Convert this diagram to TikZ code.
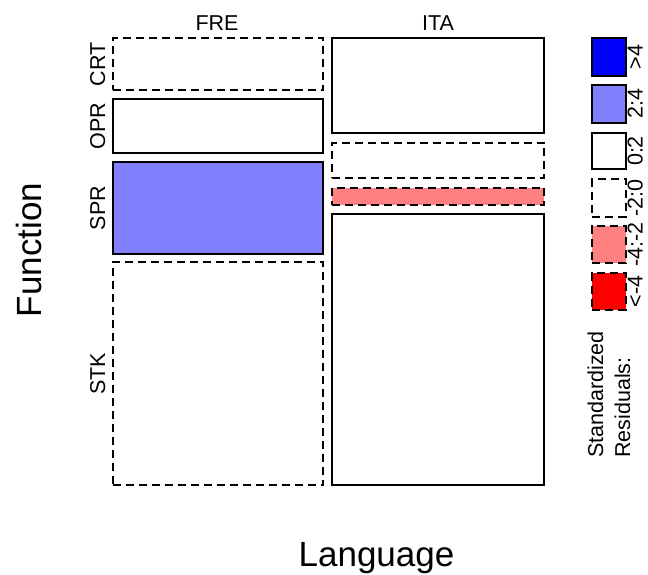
\documentclass[tikz,border=0pt]{standalone}
\usepackage{fontspec}
\setmainfont{Liberation Sans}
\usetikzlibrary{fit}
\definecolor{posbig}{HTML}{0000FF}
\definecolor{posmid}{HTML}{8080FF}
\definecolor{negmid}{HTML}{FF8080}
\definecolor{negbig}{HTML}{FF0000}
\tikzset{
  cell/.style={draw=black, line width=2.2pt, inner sep=0pt, outer sep=0pt},
  dashcell/.style={cell, dash pattern=on 8pt off 5pt},
  smalltxt/.style={font=\fontsize{21.5}{26}\selectfont, inner sep=0pt},
  bigtxt/.style={font=\fontsize{35}{42}\selectfont, inner sep=0pt},
}
\begin{document}
\begin{tikzpicture}[x=1pt,y=-1pt]
\useasboundingbox[fill=white] (0,0) rectangle (648,574);
% FRE column
\node[dashcell, fit={(112.7,38.3) (323.3,90)}] (fcrt) {};
\node[cell, fit={(112.7,99) (323.3,152.7)}] (fopr) {};
\node[cell, fill=posmid, fit={(112.7,161.7) (323.3,254)}] (fspr) {};
\node[dashcell, fit={(112.7,262.3) (323.3,485)}] (fstk) {};
% ITA column
\node[cell, fit={(332.3,38.3) (544.3,133.3)}] (icrt) {};
\node[dashcell, fit={(332.3,142.7) (544.3,178.3)}] (iopr) {};
\node[dashcell, fill=negmid, fit={(332.3,187.7) (544.3,205)}] (ispr) {};
\node[cell, fit={(332.3,214.3) (544.3,485)}] (istk) {};
% column labels
\node[smalltxt, anchor=base] (lfre) at (217,30.7) {FRE};
\node[smalltxt, anchor=base] (lita) at (438,30.7) {ITA};
% row labels
\node[smalltxt, rotate=90, anchor=base] (lcrt) at (105,64.2) {CRT};
\node[smalltxt, rotate=90, anchor=base] (lopr) at (105,125.9) {OPR};
\node[smalltxt, rotate=90, anchor=base] (lspr) at (105,207.9) {SPR};
\node[smalltxt, rotate=90, anchor=base] (lstk) at (105,373.7) {STK};
% axis titles
\node[bigtxt, rotate=90, anchor=base] (lfun) at (41.7,250) {Function};
\node[bigtxt, anchor=base] (llang) at (376.5,566) {Language};
% legend
\node[cell, fill=posbig, fit={(592.3,38.3) (625.7,75.7)}] (k1) {};
\node[cell, fill=posmid, fit={(592.3,85) (625.7,122.7)}] (k2) {};
\node[cell, fit={(592.3,132.7) (625.7,169.3)}] (k3) {};
\node[dashcell, fit={(592.3,179.3) (625.7,216.7)}] (k4) {};
\node[dashcell, fill=negmid, fit={(592.3,226) (625.7,263.3)}] (k5) {};
\node[dashcell, fill=negbig, fit={(592.3,272.7) (625.7,310)}] (k6) {};
\node[smalltxt, rotate=90, anchor=base] (t1) at (642.5,57) {>4};
\node[smalltxt, rotate=90, anchor=base] (t2) at (642.5,103.9) {2:4};
\node[smalltxt, rotate=90, anchor=base] (t3) at (642.5,151) {0:2};
\node[smalltxt, rotate=90, anchor=base] (t4) at (642.5,198) {-2:0};
\node[smalltxt, rotate=90, anchor=base] (t5) at (642.5,244.7) {-4:-2};
\node[smalltxt, rotate=90, anchor=base] (t6) at (642.5,291.4) {<-4};
\node[smalltxt, rotate=90, anchor=base west] (sr1) at (603,458) {Standardized};
\node[smalltxt, rotate=90, anchor=base west] (sr2) at (630,458) {Residuals:};
\end{tikzpicture}
\end{document}
